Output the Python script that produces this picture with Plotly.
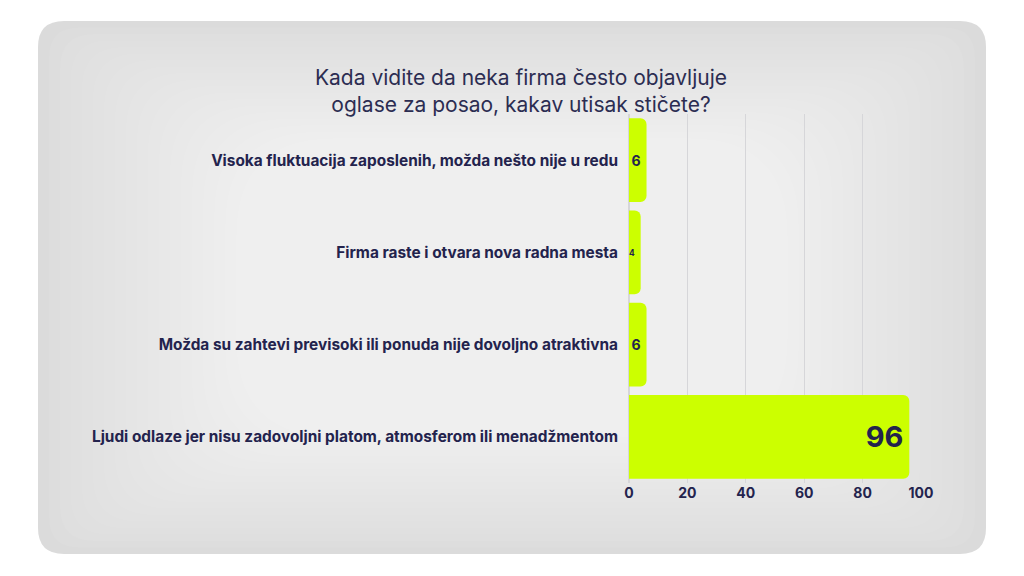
import plotly.graph_objects as go

# data
categories = [
    "Visoka fluktuacija zaposlenih, možda nešto nije u redu",
    "Firma raste i otvara nova radna mesta",
    "Možda su zahtevi previsoki ili ponuda nije dovoljno atraktivna",
    "Ljudi odlaze jer nisu zadovoljni platom, atmosferom ili menadžmentom",
]
values = [6, 4, 6, 96]
x_ticks = [0, 20, 40, 60, 80, 100]
title_text = "Kada vidite da neka firma često objavljuje<br>oglase za posao, kakav utisak stičete?"

# page has an 8px body margin, so the figure itself is 8px smaller
OFF = 8
W, H = 1024 - OFF, 576 - OFF
L, R, T, B = 629 - OFF, 103, 114 - OFF, 93
PW, PH = W - L - R, H - T - B

NAVY = "#23234d"
LIME = "#ccff00"
FONT = "Inter"


def px(x):
    return (x - OFF - L) / PW


def py(y):
    return (H - B - (y - OFF)) / PH


def rounded_rect(x0, y0, x1, y1, r):
    r = min(r, (x1 - x0) / 2, (y1 - y0) / 2)
    a, b, c, d = px(x0), px(x1), py(y0), py(y1)
    rx, ry = r / PW, r / PH
    return (f"M {a+rx},{c} L {b-rx},{c} Q {b},{c} {b},{c-ry} "
            f"L {b},{d+ry} Q {b},{d} {b-rx},{d} L {a+rx},{d} "
            f"Q {a},{d} {a},{d+ry} L {a},{c-ry} Q {a},{c} {a+rx},{c} Z")


shapes = []
# card background, layered to fake the soft radial gradient
shapes.append(dict(type="path", xref="paper", yref="paper", layer="below",
                   path=rounded_rect(38, 21, 986, 554, 26),
                   fillcolor="#dbdbdb", line=dict(width=0)))
steps = 34
for i in range(1, steps + 1):
    ix = i * 11
    iy = i * 6.5
    shapes.append(dict(type="path", xref="paper", yref="paper", layer="below",
                       path=rounded_rect(38 + ix, 21 + iy, 986 - ix, 554 - iy, 26 + i * 4),
                       fillcolor="rgba(255,255,255,0.06)", line=dict(width=0)))

text_sizes = [14, 14, 14, 29]

fig = go.Figure(go.Bar(
    x=values,
    y=categories,
    orientation="h",
    marker=dict(color=LIME, line=dict(width=0), cornerradius=6),
    text=[str(v) for v in values],
    textposition="inside",
    insidetextanchor="end",
    textfont=dict(family=FONT, color=NAVY, size=text_sizes, weight=700),
    cliponaxis=False,
    hoverinfo="skip",
))

fig.update_layout(
    width=W, height=H,
    margin=dict(l=L, r=R, t=T, b=B),
    paper_bgcolor="white",
    plot_bgcolor="rgba(0,0,0,0)",
    bargap=0.09,
    showlegend=False,
    shapes=shapes,
    title=dict(text=title_text, x=(521 - OFF) / W, xanchor="center",
               y=1 - (85 - OFF) / H, yanchor="top",
               font=dict(family=FONT, size=21, color="#2c2d52")),
    xaxis=dict(range=[0, 100], tickvals=x_ticks, showgrid=True, gridcolor="#d6d6d9",
               gridwidth=1, zeroline=True, zerolinecolor="#d6d6d9", showline=False,
               ticks="", tickfont=dict(family=FONT, size=14, color=NAVY, weight=700)),
    yaxis=dict(autorange="reversed", showgrid=False, zeroline=False, ticks="",
               ticklabelstandoff=10,
               tickfont=dict(family=FONT, size=15.4, color=NAVY, weight=700)),
)

fig.write_html("out.html")
